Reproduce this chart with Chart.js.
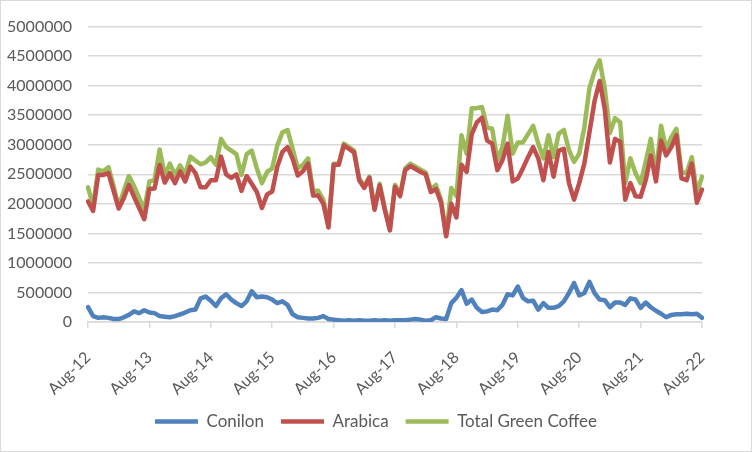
<!DOCTYPE html>
<html>
<head>
<meta charset="utf-8">
<script src="https://cdn.jsdelivr.net/npm/chart.js@4.4.1/dist/chart.umd.min.js"></script>
<style>
  html, body { margin: 0; padding: 0; background: #fff; }
  #wrap { width: 752px; height: 452px; box-sizing: border-box; border: 1px solid #d9d9d9; position: relative; }
  canvas { display: block; }
</style>
</head>
<body>
<div id="wrap"><canvas id="c" width="750" height="450"></canvas></div>
<script>
// Monthly categories Aug-12 .. Aug-22
const startYear = 2012, startMonth = 7, monthCount = 121;
const monthNames = ['Jan','Feb','Mar','Apr','May','Jun','Jul','Aug','Sep','Oct','Nov','Dec'];
const categories = [];
for (let i = 0; i < monthCount; i++) {
  const m = (startMonth + i) % 12;
  const y = startYear + Math.floor((startMonth + i) / 12);
  categories.push(monthNames[m] + '-' + String(y).slice(2));
}
const tickLabels = ['Aug-12','Aug-13','Aug-14','Aug-15','Aug-16','Aug-17','Aug-18','Aug-19','Aug-20','Aug-21','Aug-22'];
const yTicks = [0,500000,1000000,1500000,2000000,2500000,3000000,3500000,4000000,4500000,5000000];

const conilon = [
  250000,100000,70000,80000,70000,50000,50000,80000,120000,180000,150000,200000,
  160000,150000,100000,90000,80000,100000,130000,160000,200000,210000,400000,430000,
  360000,270000,400000,470000,380000,320000,270000,350000,520000,420000,430000,420000,
  380000,320000,350000,290000,130000,80000,70000,60000,60000,70000,100000,50000,
  40000,30000,20000,30000,20000,30000,20000,20000,30000,20000,30000,20000,
  30000,30000,30000,40000,50000,40000,20000,30000,80000,60000,50000,320000,
  410000,540000,310000,380000,240000,170000,180000,210000,200000,290000,470000,450000,
  600000,410000,350000,360000,210000,320000,240000,240000,270000,350000,490000,660000,
  450000,490000,680000,490000,380000,370000,250000,330000,330000,290000,400000,380000,
  240000,330000,250000,190000,140000,80000,120000,130000,130000,140000,130000,140000,
  70000
];
const arabica = [
  2040000,1880000,2490000,2490000,2520000,2220000,1920000,2100000,2320000,2120000,1930000,1740000,
  2250000,2260000,2660000,2360000,2520000,2350000,2550000,2380000,2630000,2520000,2280000,2280000,
  2400000,2400000,2800000,2500000,2440000,2500000,2220000,2470000,2340000,2200000,1930000,2160000,
  2210000,2630000,2880000,2960000,2760000,2480000,2550000,2680000,2140000,2140000,2000000,1600000,
  2660000,2660000,2990000,2930000,2870000,2400000,2270000,2440000,1900000,2310000,1900000,1550000,
  2290000,2130000,2570000,2640000,2590000,2540000,2500000,2200000,2250000,2020000,1450000,2000000,
  1770000,2660000,2540000,3180000,3380000,3460000,3070000,3020000,2570000,2740000,3020000,2380000,
  2430000,2600000,2790000,2960000,2770000,2400000,2880000,2460000,2900000,2930000,2350000,2070000,
  2350000,2680000,3210000,3740000,4080000,3600000,2700000,3100000,3050000,2070000,2350000,2130000,
  2120000,2400000,2820000,2380000,3070000,2820000,2960000,3160000,2430000,2400000,2680000,2020000,
  2240000
];
const totalGreen = [
  2280000,1960000,2580000,2550000,2620000,2300000,1950000,2220000,2470000,2300000,2100000,1900000,
  2380000,2400000,2920000,2490000,2680000,2490000,2650000,2500000,2800000,2730000,2670000,2700000,
  2790000,2660000,3100000,2960000,2900000,2840000,2490000,2840000,2900000,2600000,2350000,2540000,
  2600000,2990000,3210000,3250000,2930000,2600000,2660000,2770000,2220000,2220000,2070000,1630000,
  2680000,2680000,3020000,2960000,2900000,2430000,2300000,2460000,1930000,2340000,1930000,1570000,
  2320000,2160000,2600000,2680000,2630000,2580000,2530000,2240000,2320000,2070000,1460000,2270000,
  2130000,3160000,2850000,3620000,3620000,3640000,3290000,3270000,2740000,2960000,3490000,2850000,
  3040000,3040000,3180000,3320000,3020000,2770000,3160000,2790000,3190000,3250000,2910000,2710000,
  2850000,3290000,3960000,4240000,4430000,3950000,3200000,3450000,3380000,2350000,2770000,2520000,
  2350000,2710000,3100000,2490000,3320000,2930000,3130000,3270000,2540000,2520000,2790000,2180000,
  2460000
];

const textColor = '#595959';
const gridColor = '#d9d9d9';
const fontFamily = 'Lato, "Open Sans", sans-serif';

function ds(label, data, color) {
  return {
    label, data,
    borderColor: color, backgroundColor: color,
    borderWidth: 4.5, pointRadius: 0, pointHoverRadius: 0,
    tension: 0, borderJoinStyle: 'round', borderCapStyle: 'round', fill: false
  };
}

new Chart(document.getElementById('c'), {
  type: 'line',
  data: {
    labels: categories,
    datasets: [
      ds('Conilon', conilon, '#4f81bd'),
      ds('Arabica', arabica, '#c0504d'),
      ds('Total Green Coffee', totalGreen, '#9bbb59')
    ]
  },
  options: {
    responsive: false,
    animation: false,
    events: [],
    layout: { padding: { left: 0, right: 0, top: 20, bottom: 11 } },
    plugins: {
      tooltip: { enabled: false },
      legend: {
        position: 'bottom',
        labels: {
          usePointStyle: true,
          pointStyle: 'line',
          pointStyleWidth: 43,
          boxHeight: 17,
          color: textColor,
          padding: 17,
          font: { family: fontFamily, size: 17 }
        }
      }
    },
    scales: {
      x: {
        type: 'category',
        offset: false,
        grid: { display: true, drawOnChartArea: false, drawTicks: true, tickLength: 6, color: gridColor, lineWidth: 1.5 },
        border: { display: true, color: gridColor, width: 1.5 },
        ticks: {
          autoSkip: false,
          minRotation: 45, maxRotation: 45,
          padding: 20,
          color: textColor,
          font: { family: fontFamily, size: 16 },
          callback: function(value, index) {
            const lab = categories[index];
            return tickLabels.includes(lab) ? lab : null;
          }
        },
        afterFit: function(scale) { scale.height = 74; }
      },
      y: {
        min: 0, max: 5000000,
        afterBuildTicks: function(scale) { scale.ticks = yTicks.map(v => ({ value: v })); },
        grid: { color: gridColor, lineWidth: 1.5, drawTicks: false },
        border: { display: false },
        ticks: {
          padding: 16,
          color: textColor,
          font: { family: fontFamily, size: 16 },
          callback: function(v) { return String(v); }
        },
        afterFit: function(scale) { scale.width = 87; }
      },
      spacer: {
        type: 'linear',
        position: 'right',
        display: true,
        grid: { display: false, drawOnChartArea: false, drawTicks: false },
        border: { display: false },
        ticks: { display: false },
        afterFit: function(scale) { scale.width = 49; }
      }
    }
  }
});
</script>
</body>
</html>
